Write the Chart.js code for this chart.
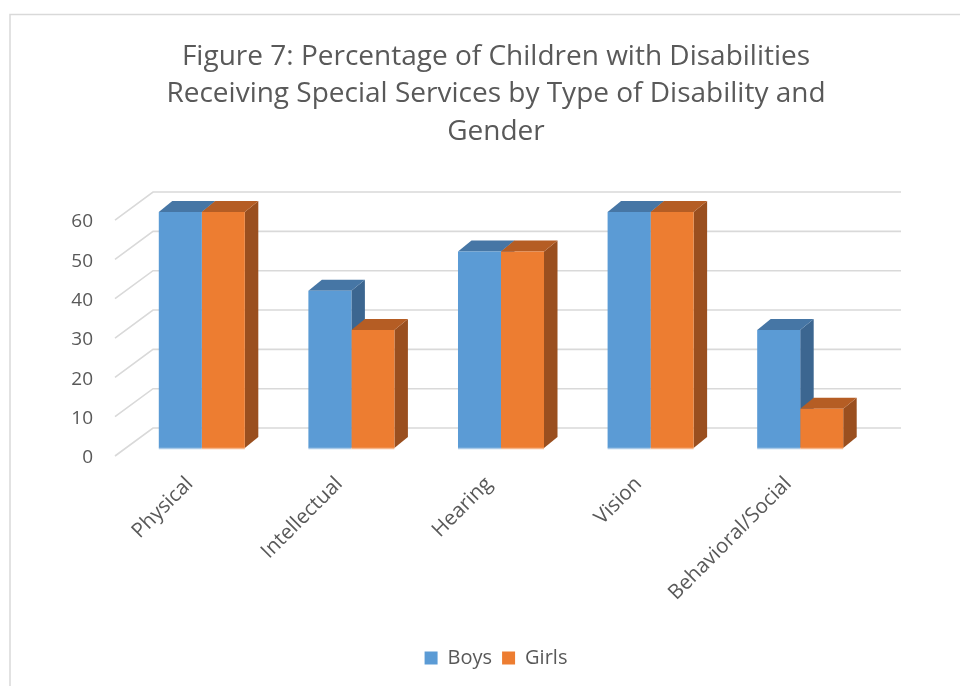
<!DOCTYPE html>
<html>
<head>
<meta charset="utf-8">
<title>Children with Disabilities Receiving Special Services</title>
<script src="https://cdn.jsdelivr.net/npm/chart.js@4.4.0/dist/chart.umd.min.js"></script>
<style>
  html, body { margin: 0; padding: 0; background: #ffffff; }
  canvas { display: block; }
</style>
</head>
<body>
<canvas id="chart" width="960" height="686"></canvas>
<script>
// ---- data ----
const categories = ['Physical', 'Intellectual', 'Hearing', 'Vision', 'Behavioral/Social'];
const boys  = [60, 40, 50, 60, 30];
const girls = [60, 30, 50, 60, 10];
const seriesNames = ['Boys', 'Girls'];
const titleLines = [
  'Figure 7: Percentage of Children with Disabilities',
  'Receiving Special Services by Type of Disability and',
  'Gender'
];
const yMin = 0, yMax = 60, yStep = 10;

// ---- styling ----
const TEXT = '#595959';
const FRONT = ['#5B9BD5', '#ED7D31'];
const TOP   = ['#4676a5', '#b55d24'];
const SIDE  = ['#3c6690', '#9a4f1f'];
const EDGE  = ['#a9c9e8', '#f5b68c'];
const DEPTH = { dx: 13.5, dy: 11 };                 // bar extrusion
const WALL  = { front: { dx: -12, dy: 8 }, back: { dx: 26, dy: -20 } };

Chart.defaults.font.family = "'Open Sans', 'DejaVu Sans', sans-serif";
Chart.defaults.color = TEXT;

// Draws the chart frame, the receding back wall grid and the top/side faces of each bar.
const bar3d = {
  id: 'bar3d',
  beforeDraw(chart) {
    const { ctx } = chart;
    ctx.save();
    ctx.strokeStyle = '#d9d9d9';
    ctx.lineWidth = 1.5;
    ctx.strokeRect(10, 14.5, 1200, 1000);
    ctx.restore();
  },
  beforeDatasetsDraw(chart) {
    const { ctx, chartArea, scales } = chart;
    const y = scales.y;
    ctx.save();
    ctx.strokeStyle = '#d9d9d9';
    ctx.lineWidth = 1.6;
    y.ticks.forEach(t => {
      const py = y.getPixelForValue(t.value);
      ctx.beginPath();
      ctx.moveTo(chartArea.left + WALL.front.dx, py + WALL.front.dy);
      ctx.lineTo(chartArea.left + WALL.back.dx, py + WALL.back.dy);
      ctx.lineTo(chartArea.right + WALL.back.dx, py + WALL.back.dy);
      ctx.stroke();
    });

    const n = chart.data.labels.length;
    for (let i = 0; i < n; i++) {
      chart.data.datasets.forEach((ds, d) => {
        const el = chart.getDatasetMeta(d).data[i];
        const { x, y: top, base, width } = el.getProps(['x', 'y', 'base', 'width'], true);
        const l = x - width / 2, r = x + width / 2;
        ctx.fillStyle = SIDE[d];
        ctx.beginPath();
        ctx.moveTo(r, top);
        ctx.lineTo(r + DEPTH.dx, top - DEPTH.dy);
        ctx.lineTo(r + DEPTH.dx, base - DEPTH.dy);
        ctx.lineTo(r, base);
        ctx.closePath();
        ctx.fill();
        ctx.fillStyle = TOP[d];
        ctx.beginPath();
        ctx.moveTo(l, top);
        ctx.lineTo(l + DEPTH.dx, top - DEPTH.dy);
        ctx.lineTo(r + DEPTH.dx, top - DEPTH.dy);
        ctx.lineTo(r, top);
        ctx.closePath();
        ctx.fill();
      });
    }
    ctx.restore();
  },
  afterDatasetsDraw(chart) {
    const { ctx } = chart;
    ctx.save();
    ctx.lineWidth = 1.5;
    chart.data.datasets.forEach((ds, d) => {
      ctx.strokeStyle = EDGE[d];
      chart.getDatasetMeta(d).data.forEach(el => {
        const { x, base, width } = el.getProps(['x', 'base', 'width'], true);
        ctx.beginPath();
        ctx.moveTo(x - width / 2, base + 0.5);
        ctx.lineTo(x + width / 2, base + 0.5);
        ctx.stroke();
      });
    });
    ctx.restore();
  }
};

new Chart(document.getElementById('chart'), {
  type: 'bar',
  data: {
    labels: categories,
    datasets: [
      { label: seriesNames[0], data: boys,  backgroundColor: FRONT[0], borderWidth: 0,
        barPercentage: 1, categoryPercentage: 0.575 },
      { label: seriesNames[1], data: girls, backgroundColor: FRONT[1], borderWidth: 0,
        barPercentage: 1, categoryPercentage: 0.575 }
    ]
  },
  options: {
    responsive: false,
    animation: false,
    events: [],
    layout: { padding: { left: 32, right: 0, top: 0, bottom: 8 } },
    plugins: {
      title: {
        display: true,
        text: titleLines,
        color: TEXT,
        font: { size: 28, weight: 'normal', lineHeight: 1.34 },
        padding: { top: 38, bottom: 61.5 }
      },
      legend: {
        position: 'bottom',
        labels: { boxWidth: 13, boxHeight: 13, padding: 10, color: TEXT, font: { size: 20 } }
      },
      tooltip: { enabled: false }
    },
    scales: {
      x: {
        offset: true,
        grid: { display: false, drawTicks: false },
        border: { display: false },
        ticks: { autoSkip: false, minRotation: 45, maxRotation: 45, padding: 24, labelOffset: -12,
                 color: TEXT, font: { size: 20.5 } },
        afterFit(s) { s.height = 190; }
      },
      y: {
        min: yMin, max: yMax,
        grid: { display: false, drawTicks: false },
        border: { display: false },
        ticks: { stepSize: yStep, padding: 34, labelOffset: 10, color: TEXT, font: { size: 19 } },
        afterFit(s) { s.width = 95; }
      },
      y2: {
        position: 'right',
        grid: { display: false, drawTicks: false },
        border: { display: false },
        ticks: { display: false },
        afterFit(s) { s.width = 85; }
      }
    }
  },
  plugins: [bar3d]
});
</script>
</body>
</html>
